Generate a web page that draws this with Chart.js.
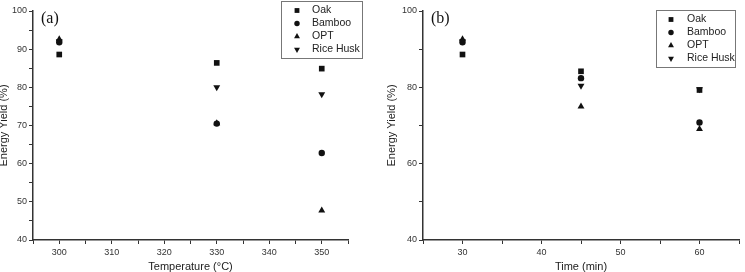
<!DOCTYPE html>
<html>
<head>
<meta charset="utf-8">
<script src="https://cdn.jsdelivr.net/npm/chart.js@4.4.0/dist/chart.umd.min.js"></script>
<style>
	html, body { margin: 0; padding: 0; background: #fff; }
	#wrap { position: relative; width: 745px; height: 272px; overflow: hidden; }
	.panel { position: absolute; top: 0; height: 272px; }
</style>
</head>
<body>
<div id="wrap">
	<div class="panel" style="left:0;width:372px"><canvas id="chartA"></canvas></div>
	<div class="panel" style="left:372px;width:373px"><canvas id="chartB"></canvas></div>
</div>
<script>
// series names and marker shapes
const seriesNames = ['Oak', 'Bamboo', 'OPT', 'Rice Husk'];
const seriesShapes = ['rect', 'circle', 'triangle', 'triangle'];
const seriesRotation = [0, 0, 0, 180];
const seriesRadius = [4, 3.2, 4, 4];

// panel (a): temperature
const tempX = [300, 330, 350];
const oakA = [88.6, 86.4, 84.9];
const bambooA = [91.8, 70.5, 62.8];
const optA = [92.6, 70.6, 47.7];
const riceA = [92.1, 80.0, 78.2];

// panel (b): time
const timeX = [30, 45, 60];
const oakB = [88.6, 84.2, 79.3];
const bambooB = [91.8, 82.4, 70.8];
const optB = [92.6, 75.0, 69.1];
const riceB = [92.1, 80.4, 79.5];

const inkColor = '#111';
const axisColor = '#333';
const tickFont = { family: 'Liberation Sans, Arial, sans-serif', size: 9 };
const titleFont = { family: 'Liberation Sans, Arial, sans-serif', size: 11, lineHeight: 1 };

function makeDatasets(xs, series) {
	return series.map((vals, i) => ({
		label: seriesNames[i],
		data: xs.map((x, j) => ({ x: x, y: vals[j] })),
		pointStyle: seriesShapes[i],
		pointRotation: seriesRotation[i],
		pointRadius: seriesRadius[i],
		pointHoverRadius: seriesRadius[i],
		backgroundColor: inkColor,
		borderColor: inkColor,
		borderWidth: 0,
	}));
}

// legend box and panel label drawn on the canvas
function panelPlugin(label, box) {
	return {
		id: 'panelDecor',
		afterDraw(chart) {
			const ctx = chart.ctx;
			ctx.save();
			ctx.font = '16px "Liberation Serif", "Times New Roman", serif';
			ctx.fillStyle = inkColor;
			ctx.textBaseline = 'middle';
			ctx.fillText(label.text, label.x, label.y);

			ctx.strokeStyle = '#777';
			ctx.lineWidth = 1;
			ctx.strokeRect(box.x + 0.5, box.y + 0.5, box.w, box.h);
			ctx.font = '10.5px "Liberation Sans", Arial, sans-serif';
			seriesNames.forEach((name, i) => {
				const y = box.y + box.firstRow + i * box.rowGap;
				ctx.fillStyle = inkColor;
				Chart.helpers.drawPoint(ctx, {
					pointStyle: seriesShapes[i],
					rotation: seriesRotation[i],
					radius: seriesRadius[i] * 0.85,
					borderWidth: 0,
				}, box.x + box.markerX, y);
				ctx.fillStyle = '#222';
				ctx.fillText(name, box.x + box.textX, y);
			});
			ctx.restore();
		},
	};
}

function makeChart(id, opts) {
	return new Chart(document.getElementById(id).getContext('2d'), {
		type: 'scatter',
		data: { datasets: makeDatasets(opts.xs, opts.series) },
		options: {
			responsive: true,
			maintainAspectRatio: false,
			animation: false,
			layout: { padding: { left: 0, top: 11, right: opts.padRight, bottom: 0 } },
			plugins: { legend: { display: false }, tooltip: { enabled: false } },
			scales: {
				x: {
					type: 'linear',
					min: opts.xMin,
					max: opts.xMax,
					afterFit(scale) { scale.height = 32; },
					afterBuildTicks(scale) {
						const t = [];
						for (let v = opts.xMin; v <= opts.xMax; v += 5) t.push({ value: v });
						scale.ticks = t;
					},
					ticks: {
						autoSkip: false,
						maxRotation: 0,
						padding: 3,
						color: axisColor,
						font: tickFont,
						callback: (v) => (v % 10 === 0 ? v : ''),
					},
					grid: { drawOnChartArea: false, tickLength: 4, color: axisColor, lineWidth: 1 },
					border: { display: true, color: axisColor, width: 1.5 },
					title: { display: true, text: opts.xTitle, color: '#222', font: titleFont, padding: { top: 0, bottom: 0 } },
				},
				y: {
					min: 40,
					max: 100,
					afterFit(scale) { scale.width = opts.yWidth; },
					afterBuildTicks(scale) {
						const t = [];
						for (let v = 40; v <= 100; v += opts.yStep) t.push({ value: v });
						scale.ticks = t;
					},
					ticks: {
						autoSkip: false,
						padding: 2,
						color: axisColor,
						font: tickFont,
						callback: (v) => (v % opts.yLabelStep === 0 ? v : ''),
					},
					grid: { drawOnChartArea: false, tickLength: 4, color: axisColor, lineWidth: 1 },
					border: { display: true, color: axisColor, width: 1.5 },
					title: { display: true, text: 'Energy Yield (%)', color: '#222', font: titleFont, padding: { top: opts.yTitlePad, bottom: 0 } },
				},
			},
		},
		plugins: [panelPlugin(opts.label, opts.box)],
	});
}

makeChart('chartA', {
	xs: tempX,
	series: [oakA, bambooA, optA, riceA],
	xMin: 295, xMax: 355,
	yStep: 5, yLabelStep: 10,
	yWidth: 33, padRight: 24, yTitlePad: -2,
	xTitle: 'Temperature (°C)',
	label: { text: '(a)', x: 41, y: 19 },
	box: { x: 281, y: 1, w: 81, h: 57, markerX: 16, textX: 31, firstRow: 9.5, rowGap: 13 },
});

makeChart('chartB', {
	xs: timeX,
	series: [oakB, bambooB, optB, riceB],
	xMin: 25, xMax: 65,
	yStep: 10, yLabelStep: 20,
	yWidth: 51, padRight: 6, yTitlePad: 14,
	xTitle: 'Time (min)',
	label: { text: '(b)', x: 59, y: 19 },
	box: { x: 284, y: 10, w: 79, h: 57, markerX: 15, textX: 31, firstRow: 9.5, rowGap: 13 },
});
</script>
</body>
</html>
